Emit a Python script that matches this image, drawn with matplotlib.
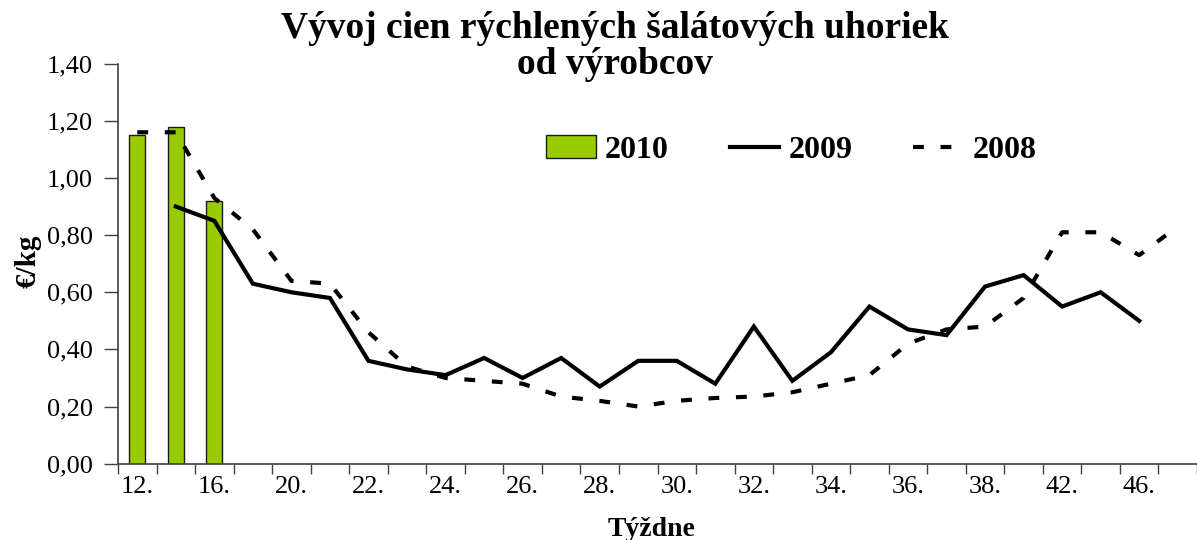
import matplotlib
matplotlib.use("Agg")
import matplotlib.pyplot as plt
import numpy as np
from matplotlib.patches import Patch
from matplotlib.lines import Line2D

# ---- data ----
weeks = ["12.", "14.", "16.", "18.", "20.", "21.", "22.", "23.", "24.", "25.",
         "26.", "27.", "28.", "29.", "30.", "31.", "32.", "33.", "34.", "35.",
         "36.", "37.", "38.", "40.", "42.", "44.", "46.", "48."]
v2010 = [1.15, 1.18, 0.92]
v2009 = [np.nan, 0.90, 0.85, 0.63, 0.60, 0.58, 0.36, 0.33, 0.31, 0.37,
         0.30, 0.37, 0.27, 0.36, 0.36, 0.28, 0.48, 0.29, 0.39, 0.55,
         0.47, 0.45, 0.62, 0.66, 0.55, 0.60, 0.50, np.nan]
v2008 = [1.16, 1.16, 0.93, 0.82, 0.64, 0.63, 0.46, 0.34, 0.30, 0.29,
         0.28, 0.235, 0.22, 0.20, 0.22, 0.23, 0.235, 0.25, 0.28, 0.31,
         0.42, 0.47, 0.48, 0.58, 0.81, 0.81, 0.73, 0.83]
yticks = [0.0, 0.2, 0.4, 0.6, 0.8, 1.0, 1.2, 1.4]

FONT = "Liberation Serif"
plt.rcParams["font.family"] = FONT

W, H = 1197, 540
fig = plt.figure(figsize=(W / 100, H / 100), dpi=100)
ax = fig.add_axes([118 / W, (H - 463.7) / H, 1 - 118 / W, 400 / H])

x = np.arange(len(weeks))
DASH = (0, (2.6, 4.0))
ax.bar(x[:len(v2010)], v2010, width=0.41, color="#99CC00",
       edgecolor="#1a1a1a", linewidth=1.0, zorder=2)
ax.plot(x, v2009, color="black", lw=3.0, solid_joinstyle="miter", zorder=3)
ax.plot(x, v2008, color="black", lw=3.0, linestyle=DASH,
        dash_capstyle="butt", zorder=3)

ax.set_xlim(-0.5, (W - 118) / 38.8 - 0.5)
ax.set_ylim(0, 1.4)

# y axis
ax.set_yticks(yticks)
ax.set_yticklabels([f"{v:.2f}".replace(".", ",") for v in yticks])
ax.tick_params(axis="y", direction="out", length=10, width=1, color="#404040",
               pad=8, labelsize=19)

# x axis: labels at centers (every second), tick marks at boundaries
ax.set_xticks(x[::2])
ax.set_xticklabels(weeks[::2])
ax.set_xticks(np.arange(len(weeks) + 1) - 0.5, minor=True)
ax.tick_params(axis="x", which="major", length=0, pad=9, labelsize=19)
ax.tick_params(axis="x", which="minor", direction="out", length=7, width=1,
               color="#404040")

for s in ["top", "right"]:
    ax.spines[s].set_visible(False)
for s in ["left", "bottom"]:
    ax.spines[s].set_color("#404040")
    ax.spines[s].set_linewidth(1.2)

# titles / labels
fig.text(615 / W, 1 - 29 / H, "Vývoj cien rýchlených šalátových uhoriek",
         ha="center", va="center", fontsize=27, fontweight="bold")
fig.text(615 / W, 1 - 64 / H, "od výrobcov",
         ha="center", va="center", fontsize=27, fontweight="bold")
fig.text(652 / W, 1 - 529 / H, "Týždne", ha="center", va="center",
         fontsize=20, fontweight="bold")
fig.text(28 / W, 1 - 261 / H, "€/kg", ha="center", va="center",
         fontsize=21, fontweight="bold", rotation=90)

# legend
handles = [Patch(facecolor="#99CC00", edgecolor="#1a1a1a", linewidth=1.0),
           Line2D([], [], color="black", lw=3.0),
           Line2D([], [], color="black", lw=3.0, linestyle=DASH)]
leg = fig.legend(handles, ["2010", "2009", "2008"], loc="center left",
                 bbox_to_anchor=(546 / W, 1 - 150 / H), ncol=3, frameon=False,
                 prop={"family": FONT, "weight": "bold", "size": 23},
                 handlelength=1.55, handleheight=0.7, handletextpad=0.3,
                 columnspacing=1.9, borderaxespad=0, borderpad=0)

fig.savefig("out.png", dpi=100)
